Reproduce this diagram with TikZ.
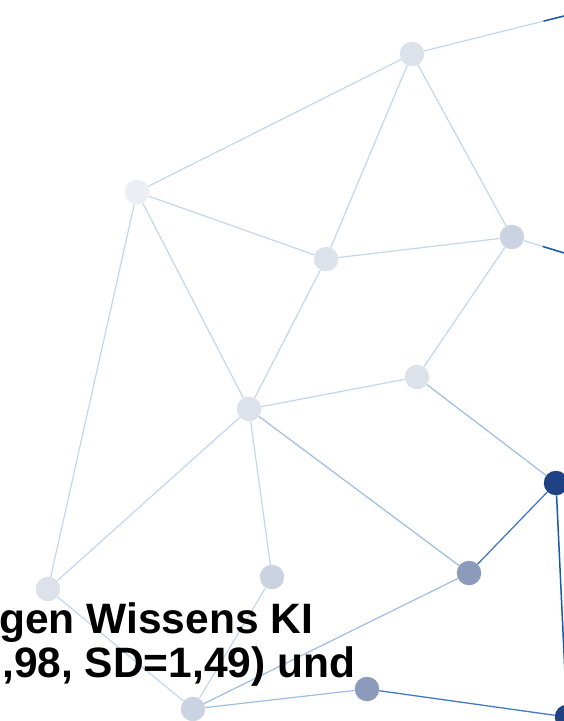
\documentclass[tikz,border=0pt]{standalone}
\usepackage{fontspec}
\setmainfont{Liberation Sans}
\usetikzlibrary{calc}
\definecolor{edgepale}{HTML}{C2D6EE}
\definecolor{edgesoft}{HTML}{9DBDE3}
\definecolor{edgemid}{HTML}{4579C0}
\definecolor{edgedeep}{HTML}{1A5AA8}
\definecolor{navy}{HTML}{1F4284}
\definecolor{dotfaint}{HTML}{ECEEF4}
\definecolor{dotpale}{HTML}{DCE1EA}
\definecolor{dotlight}{HTML}{CBD3E2}
\definecolor{dotgrey}{HTML}{8C9BBC}
\tikzset{
vertex/.style={circle, minimum size=24.5pt, inner sep=0pt},
link/.style={draw=edgepale, line width=1.2pt},
softlink/.style={draw=edgesoft, line width=1.2pt},
midlink/.style={draw=edgemid, line width=1.3pt},
deeplink/.style={draw=edgedeep, line width=1.5pt},
title/.style={anchor=base west, inner sep=0pt, font=\fontsize{42.5}{44}\selectfont\bfseries},
}

\begin{document}
\begin{tikzpicture}[x=1pt,y=-1pt]
        \useasboundingbox (0,0) rectangle (564,721);

        % net of dots
        \node[vertex,fill=dotpale] (n1) at (412,54) {};
        \node[vertex,fill=dotfaint] (n2) at (137,192) {};
        \node[vertex,fill=dotpale] (n3) at (326,259) {};
        \node[vertex,fill=dotlight] (n4) at (512,237) {};
        \node[vertex,fill=dotpale] (n5) at (417,377) {};
        \node[vertex,fill=dotpale] (n6) at (249,409) {};
        \node[vertex,fill=navy] (n7) at (556,483) {};
        \node[vertex,fill=dotgrey] (n8) at (469,573) {};
        \node[vertex,fill=dotpale] (n9) at (48,589) {};
        \node[vertex,fill=dotlight] (n10) at (272,577) {};
        \node[vertex,fill=dotgrey] (n11) at (367,689) {};
        \node[vertex,fill=dotlight] (n12) at (193,709) {};
        \node[vertex,fill=navy] (n13) at (567,717) {};
        \coordinate (out1) at (600,7);
        \coordinate (out2) at (600,264);

        \draw[link] (n1) -- (n2);
        \draw[link] (n1) -- (n3);
        \draw[link] (n1) -- (n4);
        \draw[link] (n1) -- (out1);
        \draw[deeplink] ($(n1)!0.7!(out1)$) -- (out1);
        \draw[link] (n2) -- (n3);
        \draw[link] (n2) -- (n6);
        \draw[link] (n2) -- (n9);
        \draw[link] (n3) -- (n4);
        \draw[link] (n3) -- (n6);
        \draw[link] (n4) -- (n5);
        \draw[link] (n4) -- (out2);
        \draw[deeplink] ($(n4)!0.35!(out2)$) -- (out2);
        \draw[link] (n5) -- (n6);
        \draw[softlink] (n5) -- (n7);
        \draw[link] (n6) -- (n9);
        \draw[link] (n6) -- (n10);
        \draw[softlink] (n6) -- (n8);
        \draw[midlink] (n7) -- (n8);
        \draw[deeplink] (n7) -- (n13);
        \draw[softlink] (n8) -- (n12);
        \draw[link] (n9) -- (n12);
        \draw[link] (n10) -- (n12);
        \draw[softlink] (n12) -- (n11);
        \draw[midlink] (n11) -- (n13);

        % heading text
        \node[title] (line1) at (-1,633) {gen Wissens KI};
        \node[title] (line2) at (2,677) {,98, SD=1,49) und};
    \end{tikzpicture}
\end{document}
